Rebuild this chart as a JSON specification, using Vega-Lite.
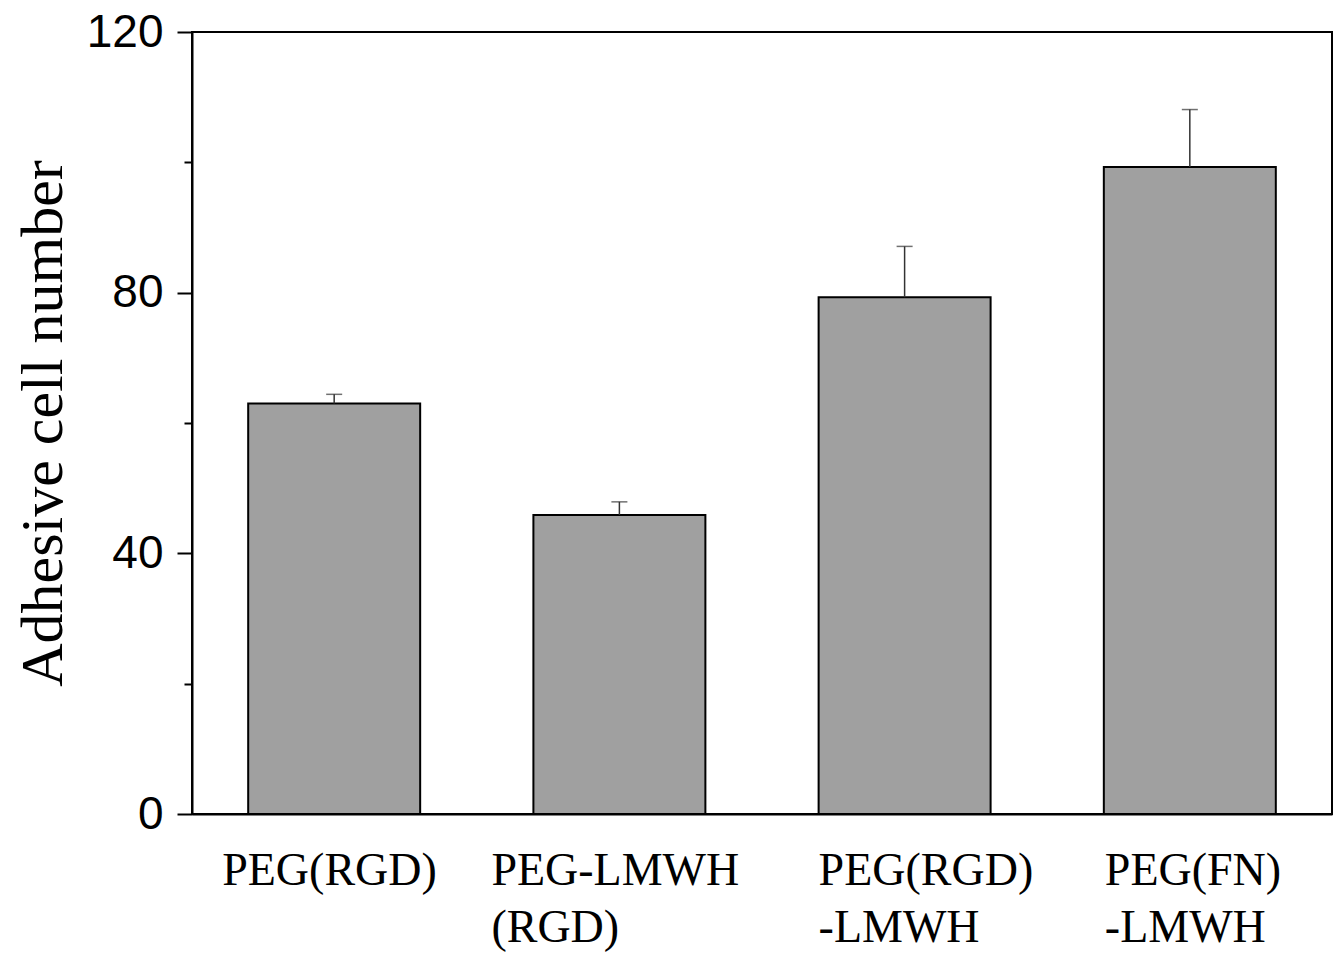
{
  "$schema": "https://vega.github.io/schema/vega-lite/v6.json",
  "autosize": {"type": "none"},
  "width": 1140,
  "height": 782,
  "padding": {"left": 192, "top": 32, "right": 9, "bottom": 142},
  "background": "white",
  "config": {
    "view": {"stroke": "black", "strokeWidth": 2},
    "axis": {"domainColor": "black", "domainWidth": 2, "tickColor": "black", "tickWidth": 2, "grid": false}
  },
  "data": {
    "values": [
      {"group": "PEG(RGD)", "value": 63.0, "upper": 64.4},
      {"group": "PEG-LMWH|(RGD)", "value": 45.9, "upper": 47.9},
      {"group": "PEG(RGD)|-LMWH", "value": 79.3, "upper": 87.1},
      {"group": "PEG(FN)|-LMWH", "value": 99.3, "upper": 108.1}
    ]
  },
  "encoding": {
    "x": {
      "field": "group",
      "type": "nominal",
      "sort": null,
      "scale": {"paddingInner": 0.397, "paddingOuter": 0.197},
      "axis": {
        "title": null,
        "labelAngle": 0,
        "ticks": false,
        "labelExpr": "split(datum.label, '|')",
        "labelFont": "Liberation Serif",
        "labelFontSize": 46,
        "labelColor": "black",
        "labelLineHeight": 57,
        "labelLimit": 0,
        "labelAlign": "left",
        "labelBaseline": "top",
        "labelPadding": 34,
        "labelOffset": {
          "condition": [
            {"test": "datum.value == 'PEG(RGD)'", "value": -112},
            {"test": "datum.value == 'PEG-LMWH|(RGD)'", "value": -128},
            {"test": "datum.value == 'PEG(RGD)|-LMWH'", "value": -86}
          ],
          "value": -85
        }
      }
    }
  },
  "layer": [
    {
      "mark": {"type": "bar", "fill": "#a0a0a0", "stroke": "black", "strokeWidth": 2},
      "encoding": {
        "y": {
          "field": "value",
          "type": "quantitative",
          "scale": {"domain": [0, 120], "nice": false},
          "axis": {
            "title": "Adhesive cell number",
            "titleFont": "Liberation Serif",
            "titleFontSize": 60,
            "titleFontWeight": "normal",
            "titleColor": "black",
            "titlePadding": 12,
            "values": [0, 20, 40, 60, 80, 100, 120],
            "labelExpr": "datum.value % 40 == 0 ? datum.label : ''",
            "labelFont": "Liberation Sans",
            "labelFontSize": 46,
            "labelColor": "black",
            "labelPadding": 14,
            "tickSize": {"condition": {"test": "datum.value % 40 == 0", "value": 15}, "value": 8}
          }
        }
      }
    },
    {
      "mark": {"type": "rule", "color": "#333333", "strokeWidth": 1.5},
      "encoding": {
        "y": {"field": "value", "type": "quantitative"},
        "y2": {"field": "upper"}
      }
    },
    {
      "mark": {"type": "tick", "color": "#333333", "thickness": 1.5, "size": 16, "orient": "horizontal"},
      "encoding": {
        "y": {"field": "upper", "type": "quantitative"}
      }
    }
  ]
}
